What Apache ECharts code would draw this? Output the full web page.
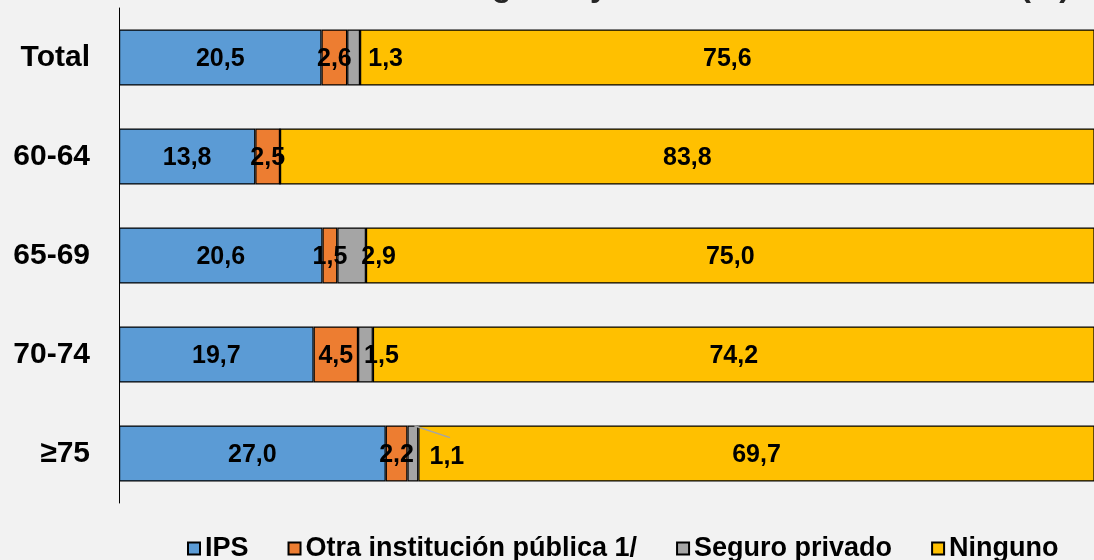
<!DOCTYPE html>
<html>
<head>
<meta charset="utf-8">
<script src="https://cdn.jsdelivr.net/npm/echarts@6/dist/echarts.min.js"></script>
<style>
  html, body { margin: 0; padding: 0; background: #f2f2f2; }
  #chart { width: 1094px; height: 560px; }
</style>
</head>
<body>
<div id="chart"></div>
<script>
var categories = ['Total', '60-64', '65-69', '70-74', '≥75']
var ips = [20.5, 13.8, 20.6, 19.7, 27.0]
var otra = [2.6, 2.5, 1.5, 4.5, 2.2]
var seguro = [1.3, 0, 2.9, 1.5, 1.1]
var ninguno = [75.6, 83.8, 75.0, 74.2, 69.7]
var seriesNames = ['IPS', 'Otra institución pública 1/', 'Seguro privado', 'Ninguno']
var colors = ['#5b9bd5', '#ed7d31', '#a5a5a5', '#ffc000']

// nudges for the labels of the narrow grey segments (series index 2)
var greyNudge = [[32, 2], [0, 2], [27, 2], [16, 2], [34, 4]]

function fmt (p) {
    if (!p.value) return ''
    return p.value.toFixed(1).replace('.', ',')
}

function build (values, idx) {
    return values.map(function (v, i) {
        var item = { value: v }
        if (idx === 2) {
            item.label = { offset: greyNudge[i] }
        }
        return item
    })
}

var allValues = [ips, otra, seguro, ninguno]
var series = allValues.map(function (vals, idx) {
    return {
        name: seriesNames[idx],
        type: 'bar',
        stack: 'total',
        barWidth: 56,
        itemStyle: {
            color: colors[idx],
            borderColor: '#000',
            borderWidth: 1.2
        },
        label: {
            show: true,
            position: 'inside',
            offset: [0, 2],
            color: '#000',
            fontSize: 25,
            fontWeight: 'bold',
            fontFamily: 'Liberation Sans, Arial',
            formatter: fmt
        },
        data: build(vals, idx)
    }
})

// leader line for the 1,1 label of the last row (grey segment top -> label),
// drawn on a hidden numeric y axis that mirrors the category slots
series.push({
    type: 'lines',
    coordinateSystem: 'cartesian2d',
    yAxisIndex: 1,
    silent: true,
    lineStyle: { color: '#a5a5a5', width: 1.5, opacity: 1 },
    data: [{ coords: [[29.9, 3.72], [33.5, 3.84]] }],
    z: 5
})

var option = {
    backgroundColor: '#f2f2f2',
    animation: false,
    title: {
        text: 'Cobertura de seguros y tramos de edad en el total (%)',
        right: 19,
        top: -34,
        textStyle: {
            fontSize: 32,
            lineHeight: 32,
            fontWeight: 'bold',
            color: '#262626',
            fontFamily: 'Liberation Sans, Arial'
        }
    },
    legend: {
        data: seriesNames,
        left: 182,
        top: 530,
        icon: 'rect',
        itemWidth: 12,
        itemHeight: 12,
        itemGap: 39,
        textStyle: {
            fontSize: 27,
            fontWeight: 'bold',
            color: '#000',
            fontFamily: 'Liberation Sans, Arial'
        }
    },
    grid: {
        left: 119,
        top: 8,
        right: 0,
        height: 495
    },
    xAxis: {
        type: 'value',
        min: 0,
        max: 98.7,
        show: false
    },
    yAxis: [{
        type: 'category',
        inverse: true,
        data: categories,
        axisTick: { show: false },
        axisLine: { lineStyle: { color: '#000', width: 1 } },
        axisLabel: {
            margin: 29,
            padding: [4, 0, 0, 0],
            fontSize: 30,
            fontWeight: 'bold',
            color: '#000',
            fontFamily: 'Liberation Sans, Arial'
        }
    }, {
        type: 'value',
        inverse: true,
        min: -0.5,
        max: 4.5,
        show: false
    }],
    series: series
}

var myChart = echarts.init(document.getElementById('chart'))
myChart.setOption(option)
</script>
</body>
</html>
